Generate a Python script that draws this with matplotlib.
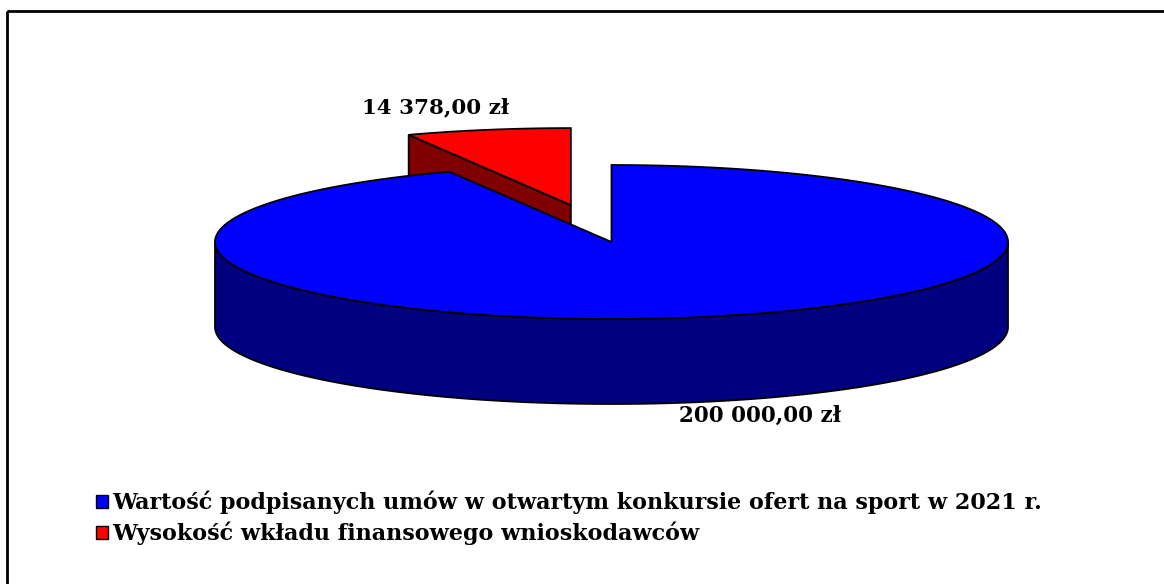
import numpy as np
import matplotlib.pyplot as plt
from matplotlib.patches import Polygon, Rectangle, Patch

labels = ['Wartość podpisanych umów w otwartym konkursie ofert na sport w 2021 r.',
          'Wysokość wkładu finansowego wnioskodawców']
values = [200000.00, 14378.00]
value_labels = ['200 000,00 zł', '14 378,00 zł']
top_colors = ['#0000FF', '#FF0000']
side_colors = ['#000080', '#800000']
explode = [0.0, 0.49]

# pie geometry in pixel space
cx, cy = 611.5, 242.0
a, b = 396.5, 77.0
depth = 85.0

plt.rcParams['font.family'] = ['DejaVu Serif']

fig = plt.figure(figsize=(11.64, 5.84), dpi=100)
ax = fig.add_axes([0, 0, 1, 1])
ax.set_xlim(0, 1164)
ax.set_ylim(584, 0)
ax.axis('off')


def pt(theta, r=1.0, z=0.0, off=(0.0, 0.0)):
    return (cx + off[0] + r * a * np.cos(theta), cy + off[1] - r * b * np.sin(theta) + z)


total = sum(values)
start = np.pi / 2
slices = []
for v, e in zip(values, explode):
    sweep = 2 * np.pi * v / total
    t1 = start - sweep  # clockwise
    mid = (start + t1) / 2
    off = (e * a * np.cos(mid), -e * b * np.sin(mid))
    slices.append((t1, start, off))
    start = t1

lw = 1.3
# draw the exploded (back) slice first, then the big one
for i in [1, 0]:
    t1, t2, off = slices[i]
    vtx = pt(0, 0, 0, off)
    # radial faces, only those turned to the viewer
    for t, n in [(t2, t2 + np.pi / 2), (t1, t1 - np.pi / 2)]:
        if np.sin(n) < -1e-3:
            ex = pt(t, 1, 0, off)
            face = [vtx, ex, (ex[0], ex[1] + depth), (vtx[0], vtx[1] + depth)]
            ax.add_patch(Polygon(face, closed=True, fc=side_colors[i], ec='black', lw=lw))
    # outer wall on the front half
    ths = np.linspace(t1, t2, 600)
    front = ths[np.sin(ths) < 0]
    if len(front) > 1:
        top = [pt(t, 1, 0, off) for t in front]
        bot = [pt(t, 1, depth, off) for t in front[::-1]]
        ax.add_patch(Polygon(top + bot, closed=True, fc=side_colors[i], ec='black', lw=lw))
    # top face
    arc = [pt(t, 1, 0, off) for t in ths]
    ax.add_patch(Polygon([vtx] + arc, closed=True, fc=top_colors[i], ec='black', lw=lw))

# value labels
ax.text(760, 416, value_labels[0], ha='center', va='center', fontsize=15.5, fontweight='bold')
ax.text(436, 107, value_labels[1], ha='center', va='center', fontsize=15.4, fontweight='bold')

# frame (only top and left visible)
ax.add_patch(Rectangle((7, 11), 1200, 600, fill=False, ec='black', lw=2))

handles = [Patch(fc=c, ec='black', lw=1) for c in top_colors]
fig.legend(handles, labels, loc='upper left', bbox_to_anchor=(96 / 1164, 1 - 491 / 584),
           frameon=False, prop={'weight': 'bold', 'size': 16},
           handlelength=0.52, handleheight=0.52, handletextpad=0.2, labelspacing=0.32,
           borderaxespad=0, borderpad=0)

fig.savefig('out.png', dpi=100)
